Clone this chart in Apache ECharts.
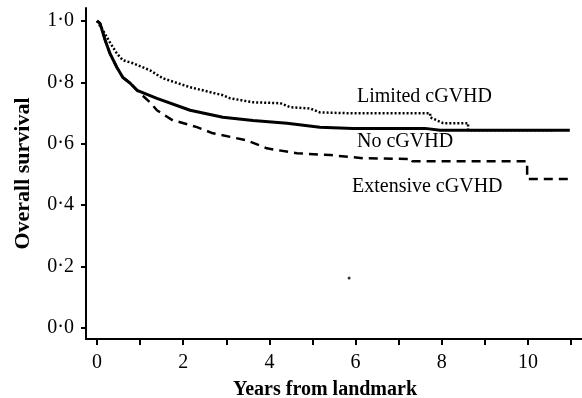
<!DOCTYPE html>
<html><head><meta charset="utf-8">
<script src="https://cdn.jsdelivr.net/npm/echarts@6/dist/echarts.min.js"></script>
<style>html,body{margin:0;padding:0;background:#fff}#c{width:582px;height:398px}</style>
</head><body><div id="c"></div>
<script>
// Kaplan-Meier curves (years from landmark, overall survival)
const limitedX = [0, 0.14, 0.30, 0.46, 0.60, 0.84, 1.23, 1.53, 2.16, 2.92, 3.09, 3.62, 4.25, 4.48, 4.94, 5.17, 5.94, 7.73, 7.73, 8.03, 8.61, 8.61, 10.63];
const limitedY = [1.0, 0.969, 0.930, 0.894, 0.872, 0.862, 0.839, 0.813, 0.784, 0.758, 0.748, 0.735, 0.732, 0.719, 0.715, 0.702, 0.699, 0.699, 0.686, 0.667, 0.667, 0.644, 0.644];
const noneX = [0, 0.07, 0.19, 0.30, 0.46, 0.60, 0.77, 0.93, 1.39, 2.16, 2.92, 3.62, 4.41, 5.17, 5.94, 7.61, 7.96, 10.97];
const noneY = [1.0, 0.992, 0.937, 0.894, 0.849, 0.816, 0.797, 0.774, 0.748, 0.709, 0.686, 0.676, 0.667, 0.654, 0.650, 0.650, 0.644, 0.644];
const extX = [0, 0.07, 0.19, 0.30, 0.46, 0.60, 0.77, 1.00, 1.23, 1.39, 1.76, 1.93, 2.32, 2.69, 3.48, 3.94, 4.64, 5.41, 6.17, 7.31, 7.31, 9.98, 9.98, 10.97];
const extY = [1.0, 0.992, 0.937, 0.894, 0.849, 0.816, 0.797, 0.764, 0.735, 0.709, 0.676, 0.670, 0.654, 0.634, 0.611, 0.585, 0.569, 0.563, 0.553, 0.550, 0.543, 0.543, 0.485, 0.485];
const strayDotX = [5.85];
const strayDotY = [0.163];
const xTicks = [0, 1, 2, 3, 4, 5, 6, 7, 8, 9, 10, 11];
const xTickLabels = [0, 2, 4, 6, 8, 10];
const yTicks = [0, 0.2, 0.4, 0.6, 0.8, 1.0];
const curveLabels = ['Limited cGVHD', 'No cGVHD', 'Extensive cGVHD'];

const zip = (a, b) => a.map((v, i) => [v, b[i]]);
const serif = '"Liberation Serif", "Times New Roman", serif';
const chart = echarts.init(document.getElementById('c'), null, {renderer: 'canvas'});
const lineSeries = (x, y, type, width) => ({
  type: 'line', data: zip(x, y), symbol: 'none', silent: true,
  lineStyle: {color: '#000', width: width, type: type}
});
chart.setOption({
  animation: false,
  backgroundColor: '#fff',
  grid: {left: 86, right: 0, top: 8, bottom: 59, containLabel: false, outerBoundsMode: 'none'},
  xAxis: {
    type: 'value', min: -0.255, max: 11.253,
    name: 'Years from landmark', nameLocation: 'middle', nameGap: 41,
    nameTextStyle: {fontFamily: serif, fontWeight: 'bold', fontSize: 20, color: '#000', padding: [0, 18, 0, 0]},
    axisLine: {show: true, onZero: false, lineStyle: {color: '#000', width: 2}},
    axisTick: {show: true, length: 6, lineStyle: {color: '#000', width: 2}, customValues: xTicks},
    axisLabel: {customValues: xTickLabels, margin: 14, fontFamily: serif, fontSize: 20, color: '#000'},
    splitLine: {show: false}
  },
  yAxis: {
    type: 'value', min: -0.0358, max: 1.042,
    name: 'Overall survival', nameLocation: 'middle', nameGap: 52,
    nameTextStyle: {fontFamily: serif, fontWeight: 'bold', fontSize: 22, color: '#000'},
    axisLine: {show: true, onZero: false, lineStyle: {color: '#000', width: 2}},
    axisTick: {show: true, length: 5, lineStyle: {color: '#000', width: 2}, customValues: yTicks},
    axisLabel: {customValues: yTicks, margin: 12, fontFamily: serif, fontSize: 20, color: '#000',
      formatter: v => v.toFixed(1).replace('.', '\u00b7')},
    splitLine: {show: false}
  },
  series: [
    lineSeries(limitedX, limitedY, [2, 2], 2.5),
    lineSeries(noneX, noneY, 'solid', 3),
    lineSeries(extX, extY, [9, 6], 2.5),
    {type: 'scatter', data: zip(strayDotX, strayDotY), symbolSize: 3, silent: true, itemStyle: {color: '#000'}}
  ],
  graphic: [
    {type: 'text', left: 357, top: 87, style: {text: curveLabels[0], font: '20px ' + serif, fill: '#000'}},
    {type: 'text', left: 357, top: 132, style: {text: curveLabels[1], font: '20px ' + serif, fill: '#000'}},
    {type: 'text', left: 352, top: 177, style: {text: curveLabels[2], font: '20px ' + serif, fill: '#000'}}
  ]
});
</script></body></html>
